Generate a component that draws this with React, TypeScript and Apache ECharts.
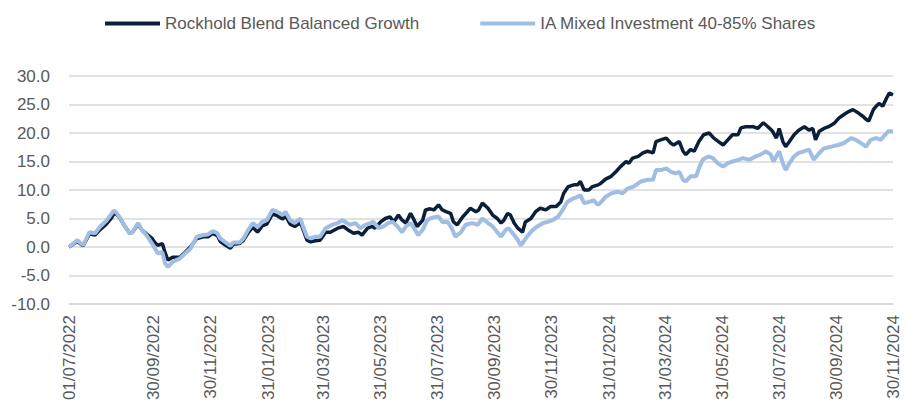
import { useEffect, useRef } from "react";
import * as echarts from "echarts";

const SERIES_NAMES = ["Rockhold Blend Balanced Growth", "IA Mixed Investment 40-85% Shares"];

const tickDates = [
  "2022-07-01", "2022-09-30", "2022-11-30", "2023-01-31", "2023-03-31", "2023-05-31", "2023-07-31",
  "2023-09-30", "2023-11-30", "2024-01-31", "2024-03-31", "2024-05-31", "2024-07-31", "2024-09-30", "2024-11-30",
];

const yTicks = { min: -10, max: 30, step: 5 };

const rockholdDates = [
  "2022-07-01", "2022-07-10", "2022-07-16", "2022-07-23", "2022-07-29", "2022-08-03", "2022-08-10", "2022-08-16",
  "2022-08-18", "2022-08-21", "2022-08-24", "2022-08-30", "2022-09-04", "2022-09-07", "2022-09-13", "2022-09-17",
  "2022-09-22", "2022-09-28", "2022-10-01", "2022-10-04", "2022-10-09", "2022-10-12", "2022-10-15", "2022-10-20",
  "2022-10-28", "2022-11-02", "2022-11-08", "2022-11-15", "2022-11-22", "2022-11-27", "2022-12-02", "2022-12-07",
  "2022-12-10", "2022-12-15", "2022-12-21", "2022-12-24", "2022-12-31", "2023-01-04", "2023-01-09", "2023-01-14",
  "2023-01-19", "2023-01-24", "2023-01-29", "2023-02-04", "2023-02-09", "2023-02-15", "2023-02-18", "2023-02-23",
  "2023-02-28", "2023-03-06", "2023-03-09", "2023-03-13", "2023-03-17", "2023-03-22", "2023-03-27", "2023-04-02",
  "2023-04-07", "2023-04-15", "2023-04-21", "2023-04-26", "2023-05-02", "2023-05-07", "2023-05-11", "2023-05-17",
  "2023-05-22", "2023-05-25", "2023-05-31", "2023-06-05", "2023-06-10", "2023-06-14", "2023-06-19", "2023-06-23",
  "2023-06-27", "2023-07-02", "2023-07-05", "2023-07-09", "2023-07-15", "2023-07-18", "2023-07-23", "2023-07-27",
  "2023-08-01", "2023-08-05", "2023-08-09", "2023-08-14", "2023-08-17", "2023-08-21", "2023-08-27", "2023-09-01",
  "2023-09-04", "2023-09-10", "2023-09-13", "2023-09-17", "2023-09-23", "2023-09-28", "2023-10-03", "2023-10-07",
  "2023-10-10", "2023-10-14", "2023-10-17", "2023-10-21", "2023-10-25", "2023-10-30", "2023-11-02", "2023-11-08",
  "2023-11-13", "2023-11-18", "2023-11-24", "2023-11-29", "2023-12-05", "2023-12-10", "2023-12-13", "2023-12-18",
  "2023-12-24", "2023-12-28", "2023-12-31", "2024-01-04", "2024-01-09", "2024-01-13", "2024-01-19", "2024-01-22",
  "2024-01-27", "2024-02-02", "2024-02-07", "2024-02-12", "2024-02-18", "2024-02-21", "2024-02-25", "2024-03-02",
  "2024-03-07", "2024-03-12", "2024-03-18", "2024-03-21", "2024-03-26", "2024-04-01", "2024-04-06", "2024-04-09",
  "2024-04-15", "2024-04-19", "2024-04-22", "2024-04-27", "2024-05-01", "2024-05-06", "2024-05-11", "2024-05-17",
  "2024-05-22", "2024-05-27", "2024-06-01", "2024-06-06", "2024-06-11", "2024-06-17", "2024-06-20", "2024-06-25",
  "2024-07-03", "2024-07-08", "2024-07-14", "2024-07-19", "2024-07-24", "2024-07-28", "2024-07-31", "2024-08-04",
  "2024-08-07", "2024-08-11", "2024-08-16", "2024-08-21", "2024-08-27", "2024-09-01", "2024-09-05", "2024-09-08",
  "2024-09-12", "2024-09-17", "2024-09-22", "2024-09-28", "2024-10-03", "2024-10-08", "2024-10-14", "2024-10-18",
  "2024-10-24", "2024-10-29", "2024-11-01", "2024-11-04", "2024-11-09", "2024-11-12", "2024-11-15", "2024-11-19",
  "2024-11-23", "2024-11-26", "2024-11-30",
];

const rockholdValues = [
  0.0, 1.0, 0.2, 2.3, 2.1, 3.0, 4.0, 5.2,
  5.9, 5.8, 5.2, 3.6, 2.4, 2.6, 4.0, 3.0,
  2.3, 1.5, 0.8, 0.3, 0.6, -1.0, -2.3, -1.8,
  -1.8, -1.0, 0.0, 1.5, 1.8, 1.8, 2.4, 2.0,
  1.0, 0.4, -0.2, 0.5, 0.6, 1.2, 2.5, 3.5,
  2.6, 3.7, 4.0, 5.8, 5.5, 4.9, 5.5, 4.0,
  3.6, 4.3, 3.0, 1.2, 0.9, 1.1, 1.2, 2.6,
  2.6, 3.3, 3.6, 3.0, 2.4, 2.6, 2.1, 3.3,
  3.6, 3.3, 4.4, 5.0, 5.3, 4.4, 5.6, 4.7,
  4.2, 5.9, 5.0, 3.6, 4.7, 6.5, 6.7, 6.5,
  7.4, 6.5, 6.2, 5.9, 4.4, 3.9, 5.3, 6.2,
  6.8, 6.2, 6.5, 7.7, 6.8, 5.6, 5.0, 4.2,
  4.7, 5.9, 5.6, 4.2, 3.3, 2.6, 4.4, 5.0,
  6.2, 6.8, 6.5, 7.1, 7.1, 7.9, 9.4, 10.6,
  10.9, 10.9, 11.5, 10.0, 10.0, 10.6, 10.9, 11.2,
  11.9, 12.4, 13.2, 14.1, 15.0, 14.7, 15.6, 15.9,
  16.5, 16.8, 16.5, 18.5, 18.8, 19.1, 18.2, 17.9,
  18.5, 16.8, 16.2, 17.1, 16.8, 18.5, 19.7, 20.0,
  19.1, 18.5, 17.9, 18.8, 19.7, 19.7, 20.9, 21.1,
  21.1, 20.8, 21.8, 21.1, 20.3, 19.1, 20.8, 18.5,
  17.6, 18.5, 19.7, 20.5, 21.1, 20.5, 20.8, 18.8,
  20.3, 20.8, 21.1, 21.7, 22.6, 23.2, 23.8, 24.1,
  23.5, 22.9, 22.4, 22.1, 24.1, 24.7, 25.2, 24.7,
  26.1, 27.0, 26.7,
];

const iaDates = [
  "2022-07-01", "2022-07-10", "2022-07-16", "2022-07-23", "2022-07-29", "2022-08-03", "2022-08-10", "2022-08-16",
  "2022-08-18", "2022-08-21", "2022-08-24", "2022-08-30", "2022-09-04", "2022-09-07", "2022-09-13", "2022-09-17",
  "2022-09-22", "2022-09-28", "2022-10-01", "2022-10-04", "2022-10-09", "2022-10-12", "2022-10-15", "2022-10-20",
  "2022-10-28", "2022-11-02", "2022-11-08", "2022-11-15", "2022-11-22", "2022-11-27", "2022-12-02", "2022-12-07",
  "2022-12-10", "2022-12-15", "2022-12-21", "2022-12-24", "2022-12-31", "2023-01-04", "2023-01-09", "2023-01-14",
  "2023-01-19", "2023-01-24", "2023-01-29", "2023-02-04", "2023-02-09", "2023-02-15", "2023-02-18", "2023-02-23",
  "2023-02-28", "2023-03-06", "2023-03-09", "2023-03-13", "2023-03-17", "2023-03-22", "2023-03-27", "2023-04-02",
  "2023-04-09", "2023-04-15", "2023-04-20", "2023-04-25", "2023-04-28", "2023-05-04", "2023-05-09", "2023-05-15",
  "2023-05-20", "2023-05-23", "2023-05-29", "2023-06-03", "2023-06-08", "2023-06-13", "2023-06-18", "2023-06-23",
  "2023-06-27", "2023-07-02", "2023-07-07", "2023-07-10", "2023-07-15", "2023-07-20", "2023-07-23", "2023-07-29",
  "2023-08-01", "2023-08-05", "2023-08-11", "2023-08-16", "2023-08-19", "2023-08-25", "2023-08-30", "2023-09-06",
  "2023-09-12", "2023-09-17", "2023-09-23", "2023-09-28", "2023-10-03", "2023-10-07", "2023-10-12", "2023-10-15",
  "2023-10-21", "2023-10-25", "2023-10-28", "2023-10-31", "2023-11-05", "2023-11-10", "2023-11-15", "2023-11-21",
  "2023-11-26", "2023-12-01", "2023-12-07", "2023-12-12", "2023-12-17", "2023-12-23", "2023-12-28", "2023-12-31",
  "2024-01-04", "2024-01-09", "2024-01-14", "2024-01-19", "2024-01-24", "2024-01-27", "2024-02-02", "2024-02-09",
  "2024-02-14", "2024-02-20", "2024-02-26", "2024-03-05", "2024-03-12", "2024-03-18", "2024-03-21", "2024-03-26",
  "2024-04-01", "2024-04-06", "2024-04-11", "2024-04-15", "2024-04-19", "2024-04-22", "2024-04-27", "2024-05-03",
  "2024-05-06", "2024-05-10", "2024-05-16", "2024-05-21", "2024-05-26", "2024-06-01", "2024-06-06", "2024-06-11",
  "2024-06-17", "2024-06-22", "2024-06-29", "2024-07-06", "2024-07-11", "2024-07-17", "2024-07-22", "2024-07-25",
  "2024-07-31", "2024-08-04", "2024-08-07", "2024-08-11", "2024-08-16", "2024-08-21", "2024-08-27", "2024-09-01",
  "2024-09-06", "2024-09-12", "2024-09-17", "2024-09-25", "2024-10-02", "2024-10-08", "2024-10-16", "2024-10-21",
  "2024-10-27", "2024-11-01", "2024-11-06", "2024-11-12", "2024-11-17", "2024-11-20", "2024-11-25", "2024-11-30",
];

const iaValues = [
  0.0, 1.2, 0.3, 2.6, 2.4, 3.5, 4.6, 5.9,
  6.4, 6.0, 5.3, 3.6, 2.4, 2.6, 4.2, 3.0,
  2.1, 0.6, -0.2, -1.1, -0.9, -2.9, -3.5, -2.6,
  -2.0, -1.2, -0.3, 1.8, 2.1, 2.2, 2.8, 2.4,
  1.5, 0.9, 0.2, 0.8, 0.8, 1.5, 3.0, 4.2,
  3.5, 4.4, 4.7, 6.5, 6.2, 5.6, 6.2, 4.7,
  4.2, 5.0, 3.5, 1.8, 1.5, 1.8, 1.8, 3.3,
  3.9, 4.2, 4.7, 4.2, 3.9, 4.2, 3.3, 3.9,
  4.2, 4.4, 3.3, 3.6, 4.2, 4.4, 3.6, 2.6,
  3.6, 4.2, 3.0, 2.1, 3.0, 4.7, 5.0, 5.3,
  5.3, 4.4, 4.4, 3.0, 1.8, 2.6, 3.9, 4.2,
  3.9, 5.0, 4.2, 3.6, 2.6, 1.8, 3.0, 3.3,
  2.1, 1.2, 0.3, 0.9, 2.1, 3.0, 3.6, 4.2,
  4.4, 4.7, 5.3, 6.5, 7.9, 8.5, 8.8, 9.1,
  7.7, 7.9, 8.2, 7.4, 8.2, 8.8, 9.4, 9.7,
  9.4, 10.3, 10.6, 11.5, 11.8, 11.8, 13.5, 13.5,
  13.8, 13.2, 12.9, 13.2, 11.8, 11.5, 12.4, 12.4,
  13.8, 15.3, 15.9, 15.6, 14.7, 14.1, 14.7, 15.0,
  15.3, 15.6, 15.3, 15.9, 16.2, 16.8, 16.2, 15.0,
  16.8, 14.7, 13.5, 14.7, 15.9, 16.5, 16.8, 17.1,
  15.3, 16.5, 17.3, 17.6, 17.9, 18.2, 19.1, 18.8,
  18.2, 17.6, 18.8, 19.1, 18.8, 19.4, 20.3, 20.3,
];

const FONT = "'Liberation Sans', Arial, Helvetica, sans-serif";
const TEXT_COLOR = "#595959";
const GRID_COLOR = "#d9d9d9";
const DARK = "#0b1f3b";
const LIGHT = "#a0bde3";

function toTs(s: string): number {
  const [y, m, d] = s.split("-").map(Number);
  return Date.UTC(y, m - 1, d);
}

function fmtDate(v: number): string {
  const d = new Date(v);
  const dd = String(d.getUTCDate()).padStart(2, "0");
  const mm = String(d.getUTCMonth() + 1).padStart(2, "0");
  return `${dd}/${mm}/${d.getUTCFullYear()}`;
}

function pairs(dates: string[], values: number[]) {
  return dates.map((d, i) => [toTs(d), values[i]]);
}

export default function App() {
  const ref = useRef<HTMLDivElement>(null);

  useEffect(() => {
    if (!ref.current) return;
    const chart = echarts.init(ref.current, null, { renderer: "svg" });
    const tickTs = tickDates.map(toTs);
    chart.setOption({
      animation: false,
      backgroundColor: "#ffffff",
      legend: {
        top: 10,
        left: 100,
        itemWidth: 55,
        itemHeight: 4,
        itemGap: 61,
        icon: "rect",
        data: SERIES_NAMES,
        textStyle: { fontFamily: FONT, fontSize: 17, color: TEXT_COLOR },
      },
      grid: {
        left: 69,
        right: 15,
        top: 76,
        bottom: 99,
        containLabel: false,
        outerBoundsMode: "none",
      },
      xAxis: {
        type: "value",
        min: tickTs[0],
        max: tickTs[tickTs.length - 1],
        axisLine: { show: true, onZero: false, lineStyle: { color: GRID_COLOR, width: 1.5 } },
        axisTick: { show: false },
        splitLine: { show: false },
        axisLabel: {
          customValues: tickTs,
          formatter: (v: number) => fmtDate(v),
          rotate: 90,
          margin: 11,
          fontFamily: FONT,
          fontSize: 17,
          color: TEXT_COLOR,
          hideOverlap: false,
          showMinLabel: true,
          showMaxLabel: true,
        },
      },
      yAxis: {
        type: "value",
        min: yTicks.min,
        max: yTicks.max,
        interval: yTicks.step,
        axisLine: { show: false },
        axisTick: { show: false },
        splitLine: { show: true, lineStyle: { color: GRID_COLOR, width: 1.5 } },
        axisLabel: {
          formatter: (v: number) => v.toFixed(1),
          margin: 19,
          fontFamily: FONT,
          fontSize: 17,
          color: TEXT_COLOR,
        },
      },
      series: [
        {
          name: SERIES_NAMES[0],
          type: "line",
          data: pairs(rockholdDates, rockholdValues),
          showSymbol: false,
          symbol: "none",
          lineStyle: { color: DARK, width: 3.5 },
          itemStyle: { color: DARK },
          z: 2,
        },
        {
          name: SERIES_NAMES[1],
          type: "line",
          data: pairs(iaDates, iaValues),
          showSymbol: false,
          symbol: "none",
          lineStyle: { color: LIGHT, width: 4 },
          itemStyle: { color: LIGHT },
          z: 3,
        },
      ],
    });
    return () => chart.dispose();
  }, []);

  return (
    <div
      ref={ref}
      style={{ position: "absolute", left: 0, top: 0, width: 908, height: 403, background: "#fff" }}
    />
  );
}
